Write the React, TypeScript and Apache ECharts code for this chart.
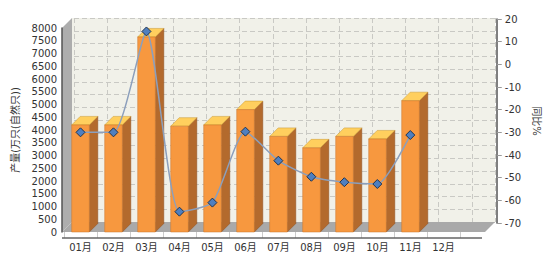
import React, { useEffect, useRef } from "react";
import * as echarts from "echarts";

const months = ["01月", "02月", "03月", "04月", "05月", "06月", "07月", "08月", "09月", "10月", "11月", "12月"];
const output = [4200, 4200, 7650, 4150, 4200, 4800, 3750, 3300, 3750, 3650, 5150, null];
const yoy = [-30, -30, 14.5, -65, -61, -29.7, -42.5, -49.6, -52, -52.8, -31.2, null];
const leftTicks = { min: 0, max: 8000, interval: 500 };
const rightTicks = { min: -70, max: 20, interval: 10 };

const FONT = 'DejaVu Sans, "Noto Sans CJK SC", sans-serif';

export default function App() {
  const ref = useRef<HTMLDivElement>(null);
  useEffect(() => {
    if (!ref.current) return;
    const chart = echarts.init(ref.current, null, { renderer: "svg" });
    const bw = 17.6;
    const d = 8.5;
    const dashed = { show: true, lineStyle: { color: "#C9C9C4", type: [5, 3] as any, width: 1 } };
    const plain = (v: number) => String(v);
    chart.setOption({
      animation: false,
      backgroundColor: "#FFFFFF",
      textStyle: { fontFamily: FONT, fontSize: 10, color: "#333" },
      grid: [
        { left: 64, right: 90, top: 28, bottom: 28 },
        { left: 74, right: 55, top: 18, bottom: 38 },
        { left: 64, right: 90, top: 19, bottom: 37 },
      ],
      graphic: [
        { type: "rect", z: -5, shape: { x: 72, y: 18, width: 423, height: 204 }, style: { fill: "#F1F1E9" } },
        { type: "polygon", z: 1, shape: { points: [[62, 28], [72, 18], [72, 222], [62, 232]] }, style: { fill: "#ADADAD" } },
        { type: "polygon", z: 1, shape: { points: [[62, 232], [72, 222], [495, 222], [485, 232]] }, style: { fill: "#A9A9A9" } },
        { type: "line", z: 3, shape: { x1: 62, y1: 238, x2: 482, y2: 238 }, style: { stroke: "#666", lineWidth: 1.5 } },
      ],
      xAxis: [
        {
          gridIndex: 0, type: "category", data: months,
          axisLine: { show: false },
          axisTick: { show: true, length: 6, lineStyle: { color: "#CCCCCC" } },
          axisLabel: { margin: 10, color: "#333", fontSize: 10, fontFamily: FONT },
          splitLine: { show: false },
        },
        {
          gridIndex: 1, type: "value", min: 0, max: 12.7, interval: 1,
          axisLine: { show: false }, axisTick: { show: false }, axisLabel: { show: false },
          splitLine: dashed, z: 0,
        },
        { gridIndex: 2, type: "category", data: months, show: false },
      ],
      yAxis: [
        {
          gridIndex: 0, type: "value", ...leftTicks, offset: 2,
          axisLine: { show: true, lineStyle: { color: "#555", width: 1.5 } },
          axisTick: { show: false },
          axisLabel: { margin: 5, color: "#333", fontSize: 10, fontFamily: FONT, formatter: plain },
          splitLine: { show: false },
          name: "产量(万只(自然只))", nameLocation: "middle", nameGap: 42,
          nameTextStyle: { fontSize: 10, color: "#333", fontFamily: FONT },
          z: 4,
        },
        {
          gridIndex: 1, type: "value", ...leftTicks,
          axisLine: { show: false }, axisTick: { show: false }, axisLabel: { show: false },
          splitLine: dashed, z: 0,
        },
        {
          gridIndex: 2, type: "value", position: "right", offset: 37, ...rightTicks,
          axisLine: { show: true, lineStyle: { color: "#555", width: 1.5 } },
          axisTick: { show: true, length: 5, lineStyle: { color: "#999" } },
          axisLabel: { margin: 8, color: "#333", fontSize: 10, fontFamily: FONT, formatter: plain },
          splitLine: { show: false },
          name: "同比%", nameLocation: "middle", nameGap: 35, nameRotate: -90,
          nameTextStyle: { fontSize: 10, color: "#333", fontFamily: FONT },
        },
      ],
      series: [
        {
          type: "custom",
          xAxisIndex: 0, yAxisIndex: 0, z: 5,
          data: output.map((v, i) => [i, v]),
          encode: { x: 0, y: 1 },
          renderItem: (params: any, api: any) => {
            const v = api.value(1);
            if (v == null || isNaN(v)) return null;
            const top = api.coord([api.value(0), v]);
            const base = api.coord([api.value(0), 0]);
            const x0 = top[0] - bw / 2;
            const x1 = top[0] + bw / 2;
            const ty = top[1];
            const by = base[1];
            return {
              type: "group",
              children: [
                { type: "polygon", shape: { points: [[x1, ty], [x1 + d, ty - d], [x1 + d, by - d], [x1, by]] }, style: { fill: "#B36A2D", stroke: "#8E4F1E", lineWidth: 0.5 } },
                { type: "polygon", shape: { points: [[x0, ty], [x0 + d, ty - d], [x1 + d, ty - d], [x1, ty]] }, style: { fill: "#FFCF5E", stroke: "#C9962E", lineWidth: 0.5 } },
                { type: "rect", shape: { x: x0, y: ty, width: bw, height: by - ty }, style: { fill: "#F7983F", stroke: "#C8742A", lineWidth: 0.5 } },
              ],
            };
          },
        },
        {
          type: "line",
          xAxisIndex: 2, yAxisIndex: 2, z: 10,
          data: yoy,
          smooth: 0.2,
          symbol: "diamond", symbolSize: 9,
          lineStyle: { color: "#8C9FBC", width: 1.5 },
          itemStyle: { color: "#4F7FBF", borderColor: "#1E3452", borderWidth: 1 },
          connectNulls: false,
        },
      ],
    });
    return () => chart.dispose();
  }, []);
  return <div ref={ref} style={{ position: "fixed", left: 0, top: 0, width: 550, height: 260 }} />;
}
